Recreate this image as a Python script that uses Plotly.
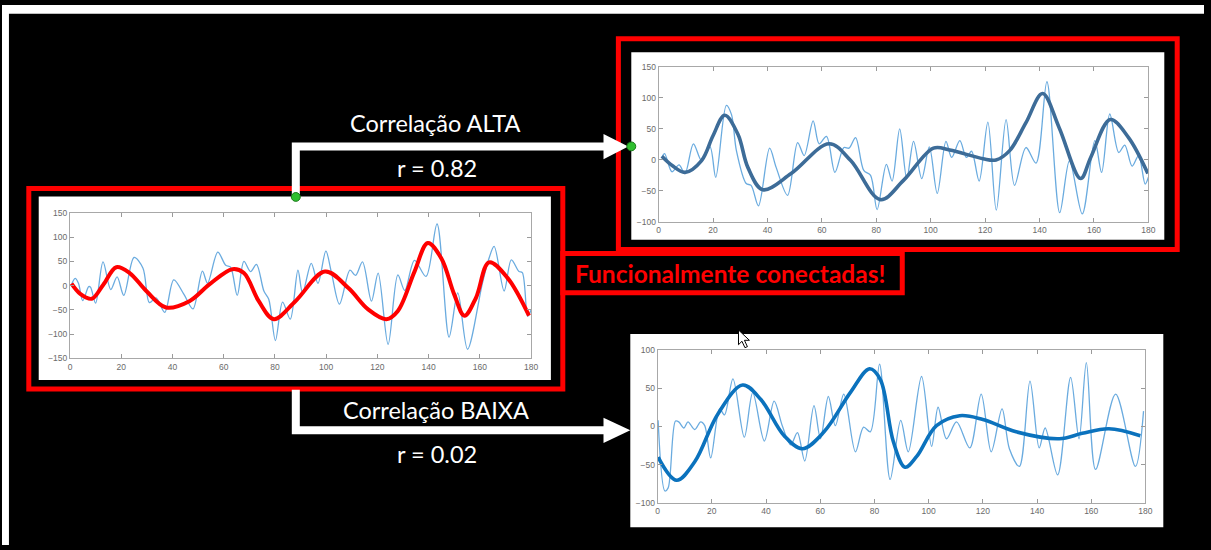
import plotly.graph_objects as go

W, H = 1211, 550

# ---------------- data ----------------
TICK_X = [0, 20, 40, 60, 80, 100, 120, 140, 160, 180]
TICK_Y_A = [-150, -100, -50, 0, 50, 100, 150]
TICK_Y_B = [-100, -50, 0, 50, 100, 150]
TICK_Y_C = [-100, -50, 0, 50, 100]

# seed region (left panel)
seed_raw_x = [0.6, 2, 3.3, 5, 7.3, 8, 10, 12.9, 15.9, 18.4, 21, 25, 28.5, 31, 33.6, 37, 40.5,
              44.5, 48, 51.7, 53.7, 57.7, 60.8, 62.7, 65.3, 67.9, 70.5, 72.8, 75.7, 77.6, 80.2,
              83, 86, 89, 90.8, 94.2, 96.8, 99.9, 102, 105.2, 109.3, 111.5, 114.2, 117.7, 120.3,
              124.2, 128, 130.7, 134.5, 139, 143.3, 148, 151.4, 155.2, 161, 163.5, 165.6, 169.5,
              172.3, 175.3, 176.6, 178.7, 180]
seed_raw_y = [2, 15, 5, -31, -2, -3, -36, 49, -8, 18, -20, 58, 36, -35, -25, -55, 12,
              -18, -48, 30, 5, 69, 42, 38, -20, 50, 29, 44, -11, -28, -113,
              -34, -69, 32, -15, 46, 5, 71, 29, -38, 32, 21, 49, -32, 26,
              -121, 22, -10, 52, 19, 127, -106, -15, -131, 5, 55, 81, -11,
              53, 29, 27, -63, -50]
seed_smooth_x = [0.6, 4, 8.5, 13, 18.1, 23.3, 29.8, 37.5, 46.6, 54.3, 63.4, 67.9, 73.7, 79.6,
                 88, 99.6, 108.7, 116.4, 123.5, 128, 134.5, 139.7, 145, 150, 154, 158.5, 163.6,
                 170.8, 179.2]
seed_smooth_y = [4, -17, -27, 2, 38, 26, -11, -45, -32, 2, 34, 26, -32, -69,
                 -32, 29, -5, -49, -69, -52, 29, 88, 56, -18, -62, -25, 48,
                 16, -62]

# high-correlation region (top right)
high_raw_x = [1.2, 2.2, 4.9, 7.5, 9.7, 12.8, 15.8, 18.9, 21, 24.9, 26.8, 28.6, 32.2, 34, 36.7,
              40.8, 43.2, 47.4, 51.1, 53.5, 56.8, 59, 61.7, 64.8, 68.1, 70, 72.4, 75.4, 77.9,
              80.3, 83.7, 85.8, 88.6, 91.2, 93.7, 96.7, 99.5, 102.4, 105.6, 107.7, 110.7, 113.1,
              115, 117.8, 121, 124.1, 127.7, 130.8, 135, 138.7, 142.7, 147.4, 151, 155.7, 160.3,
              162.8, 165.8, 169.1, 171.3, 174, 176.4, 178.8, 180]
high_raw_y = [4, 10, -19, -8, -22, 26, -1, 21, -28, 88, 73, 15, -38, -41, -74,
              19, -12, -57, 28, 7, 63, 26, 38, -20, 20, 19, 36, -17, -25,
              -80, -7, -34, 50, -30, 30, -30, 21, -54, 30, 4, 31, 4,
              14, -34, 61, -81, 65, -41, 20, -5, 126, -85, -1, -87, 31,
              -20, 74, 12, 24, -10, 7, -39, -28]
high_smooth_x = [1.2, 5, 9.7, 15.8, 20, 24.3, 29.2, 32.8, 38.3, 48.7, 62.7, 70.6, 81.5, 90,
                 101, 107, 119.2, 124, 129, 135, 141.1, 147.2, 155.1, 158.8, 166, 172.7, 179.8]
high_smooth_y = [6, -9, -20, -1, 39, 72, 41, -12, -48, -22, 26, -1, -64, -33,
                 19, 16, 2, 0, 15, 60, 107, 52, -30, 4, 65, 36, -22]

# low-correlation region (bottom right)
low_raw_x = [0.2, 2.7, 3.9, 6.6, 7.8, 9.7, 11.2, 13.7, 15.9, 17.4, 19.6, 22.9, 24.7, 27.8, 32,
             35.1, 39.4, 43, 46, 49.1, 51.6, 54.3, 57.7, 60.1, 63, 65.6, 68.7, 73, 76, 78.5,
             81.9, 85.8, 89.7, 92.5, 97.4, 101.1, 103.5, 106.6, 110.3, 115.2, 119.4, 123.1,
             127.1, 129.8, 133.5, 137.4, 140.8, 143, 147.6, 152.4, 155.5, 158.2, 161.6, 169,
             176.3, 179.3]
low_raw_y = [8, -84, -80, 7, 6, -2, 6, -4, 6, 1, -41, 23, 15, 62, -14,
             44, -19, 33, 1, -24, -8, -45, 27, -16, 39, 1, 42, -33, -1, -7,
             81, -69, 8, -33, 65, -26, 25, -16, 6, -28, 42, -33,
             23, -29, -52, 59, -28, -2, -63, 64, -16, 83, -56, 42,
             -52, 20]
low_smooth_x = [0.2, 7, 13.7, 22.2, 31.4, 38.1, 46.7, 53.4, 61.4, 71.1, 78.2, 82.2, 87, 91.3,
                95.6, 102.9, 111.5, 120, 132.3, 148.2, 156.7, 166.5, 178.1]
low_smooth_y = [-40, -70, -46, 16, 54, 35, -12, -29, -7, 44, 75, 61, -20, -53,
                -39, 1, 14, 9, -7, -16, -9, -3, -12]

LABEL_HIGH = "Correlação ALTA"
LABEL_HIGH_R = "r = 0.82"
LABEL_LOW = "Correlação BAIXA"
LABEL_LOW_R = "r = 0.02"
LABEL_CONNECTED = "Funcionalmente conectadas!"

# ---------------- helpers ----------------
def px(x):
    return x / W


def py(y):
    return 1 - y / H


RAW_COLOR = "rgba(90,162,220,0.9)"

fig = go.Figure()

panels = [
    # (axis suffix, raw x, raw y, smooth x, smooth y, smooth colour, width,
    #  pixel box [x0, x1, ytop, ybottom], y range, y ticks)
    ("", seed_raw_x, seed_raw_y, seed_smooth_x, seed_smooth_y, "#ff0000", 4,
     (68.5, 533, 211.7, 360), (-150, 150), TICK_Y_A),
    ("2", high_raw_x, high_raw_y, high_smooth_x, high_smooth_y, "#3d6c98", 3.6,
     (661.5, 1155, 63, 221), (-100, 150), TICK_Y_B),
    ("3", low_raw_x, low_raw_y, low_smooth_x, low_smooth_y, "#0b72bd", 3.6,
     (660.5, 1152, 351, 507.5), (-100, 100), TICK_Y_C),
]

axis_font = dict(family="Liberation Sans, Arial", size=8.5, color="#6a6a6a")

for suf, rx, ry, sx, sy, col, lw, box, yr, yt in panels:
    xa = "x" + suf
    ya = "y" + suf
    fig.add_trace(go.Scatter(x=rx, y=ry, mode="lines", xaxis=xa, yaxis=ya,
                             line=dict(color=RAW_COLOR, width=1.3, shape="spline",
                                       smoothing=0.9),
                             hoverinfo="skip", showlegend=False))
    fig.add_trace(go.Scatter(x=sx, y=sy, mode="lines", xaxis=xa, yaxis=ya,
                             line=dict(color=col, width=lw, shape="spline", smoothing=1),
                             hoverinfo="skip", showlegend=False))
    x0, x1, yt0, yb0 = box
    common = dict(showgrid=False, zeroline=False, ticks="inside", ticklen=4,
                  tickcolor="#9a9a9a", showline=True, linecolor="#a8a8a8",
                  linewidth=1, mirror="ticks", tickfont=axis_font)
    fig.update_layout(**{
        "xaxis" + suf: dict(domain=[px(x0), px(x1)], range=[0, 180], tickvals=TICK_X,
                            anchor=ya, **common),
        "yaxis" + suf: dict(domain=[py(yb0), py(yt0)], range=list(yr), tickvals=yt,
                            anchor=xa, **common),
    })

shapes = []


def rect(x0, y0, x1, y1, fill=None, line=None, lw=0, layer="below"):
    shapes.append(dict(type="rect", xref="paper", yref="paper",
                       x0=px(x0), x1=px(x1), y0=py(y0), y1=py(y1),
                       fillcolor=fill if fill else "rgba(0,0,0,0)",
                       line=dict(color=line if line else "rgba(0,0,0,0)", width=lw),
                       layer=layer))


def path(points, close=False, fill=None, line=None, lw=0, layer="above"):
    d = "M " + " L ".join(f"{px(a):.5f},{py(b):.5f}" for a, b in points)
    if close:
        d += " Z"
    shapes.append(dict(type="path", xref="paper", yref="paper", path=d,
                       fillcolor=fill if fill else "rgba(0,0,0,0)",
                       line=dict(color=line if line else "rgba(0,0,0,0)", width=lw),
                       layer=layer))


# slide frame strips
rect(0, 0, W, 9, fill="white")
rect(0, 0, 7, H, fill="white")

# white chart cards
rect(37, 195, 553, 382, fill="white")
rect(634, 48, 1171, 239, fill="white")
rect(633, 335, 1170, 532, fill="white")

# red highlight boxes
rect(27, 187, 565, 391, line="#ff0000", lw=5, layer="above")
rect(621, 34.5, 1184, 249, line="#ff0000", lw=5, layer="above")
rect(565, 253, 907, 293, line="#ff0000", lw=5, layer="above")

# connectors
path([(296, 195), (296, 144), (608, 144)], line="white", lw=8)
path([(606, 131.5), (631, 144), (606, 157)], close=True, fill="white", line="white", lw=0)
path([(296, 392), (296, 433), (608, 433)], line="white", lw=8)
path([(606, 420.5), (633, 433), (606, 446)], close=True, fill="white", line="white", lw=0)

# connection handles
for cx, cy in [(296, 195.5), (634, 144)]:
    shapes.append(dict(type="circle", xref="paper", yref="paper",
                       x0=px(cx - 4.5), x1=px(cx + 4.5), y0=py(cy + 4.5), y1=py(cy - 4.5),
                       fillcolor="#2fbf2f", line=dict(color="#1a7a1a", width=1),
                       layer="above"))

# mouse pointer
path([(742, 331), (742, 346), (745.5, 342.5), (748.5, 349), (751, 348), (748, 341.5),
      (753, 341.5)], close=True, fill="white", line="black", lw=1)

annotations = []


def label(text, x, y, size, color="white", bold=False):
    annotations.append(dict(text=f"<b>{text}</b>" if bold else text,
                            xref="paper", yref="paper", x=px(x), y=py(y),
                            xanchor="center", yanchor="middle", showarrow=False,
                            font=dict(family="Lato, Open Sans, sans-serif",
                                      size=size, color=color)))


label(LABEL_HIGH, 437, 120, 23.5)
label(LABEL_HIGH_R, 438, 166, 23.5)
label(LABEL_LOW, 437, 413, 23.5)
label(LABEL_LOW_R, 438, 457, 23.5)
label(LABEL_CONNECTED, 733, 273, 24.5, color="#ff0000", bold=True)

fig.update_layout(width=W, height=H, margin=dict(l=0, r=0, t=0, b=0),
                  paper_bgcolor="black", plot_bgcolor="white",
                  shapes=shapes, annotations=annotations, showlegend=False)

fig.write_html("out.html")
